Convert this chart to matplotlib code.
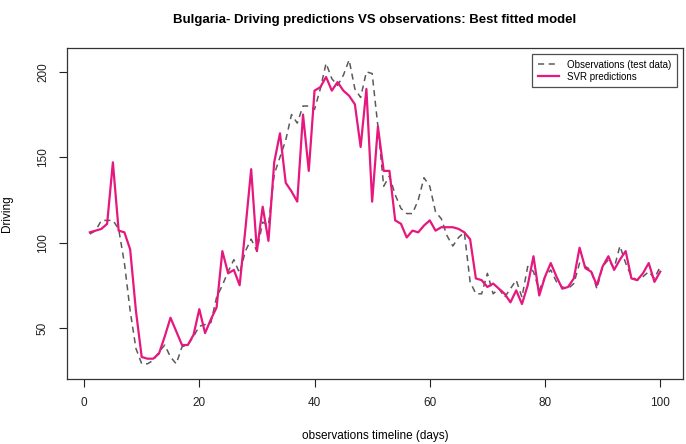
import matplotlib
matplotlib.use("Agg")
import matplotlib.pyplot as plt
import numpy as np

plt.rcParams['font.family'] = ['Liberation Sans', 'DejaVu Sans']

# days 1..100 of the test period
days = np.arange(1, 101)

# observed driving index (test data)
observations = [
    105, 107, 113, 113, 113, 108, 88, 60, 38, 29,
    29, 31, 36, 40, 33, 29, 39, 40, 45, 51,
    52, 53, 68, 75, 83, 90, 82, 95, 102, 95,
    112, 110, 140, 150, 160, 175, 170, 180, 180, 178,
    190, 205, 196, 192, 198, 207, 190, 185, 200, 199,
    168, 133, 139, 128, 120, 117, 117, 125, 138, 133,
    118, 114, 104, 98, 103, 106, 77, 70, 70, 82,
    70, 73, 68, 73, 78, 68, 86, 83, 72, 80,
    84, 77, 74, 73, 76, 88, 86, 84, 73, 86,
    90, 85, 98, 88, 80, 78, 80, 83, 79, 86,
]

# SVR model predictions
svr_pred = [
    106, 107, 108, 111, 147, 107, 106, 96, 60, 33,
    32, 32, 35, 45, 56, 48, 40, 40, 46, 61,
    47, 55, 62, 95, 82, 84, 75, 108, 143, 95,
    121, 101, 147, 164, 135, 130, 124, 175, 142, 189,
    191, 197, 189, 194, 189, 186, 181, 156, 190, 124,
    168, 142, 142, 113, 111, 103, 107, 106, 110, 113,
    107, 109, 109, 109, 108, 106, 102, 79, 78, 74,
    76, 73, 70, 65, 72, 64, 75, 92, 69, 80,
    88, 80, 73, 74, 79, 97, 85, 83, 75, 86,
    92, 84, 90, 95, 79, 78, 82, 88, 77, 83,
]

fig = plt.figure(figsize=(6.86, 4.44), dpi=100)
ax = fig.add_axes([0.0977, 0.146, 0.898, 0.746])

ax.plot(days, observations, color="#5a5a5a", lw=1.1, ls=(0, (4, 3)),
        label="Observations (test data)")
ax.plot(days, svr_pred, color="#E6177F", lw=1.6, label="SVR predictions")

ax.set_xlim(-2.96, 103.96)
ax.set_ylim(20, 214)
ax.set_xticks([0, 20, 40, 60, 80, 100])
ax.set_yticks([50, 100, 150, 200])
ax.tick_params(axis="both", length=6, width=0.8, labelsize=8.5,
               colors="#222222", pad=7)
for lab in ax.get_yticklabels():
    lab.set_rotation(90)
    lab.set_va("center")

for s in ax.spines.values():
    s.set_color("#333333")
    s.set_linewidth(0.9)

ax.set_xlabel("observations timeline (days)", fontsize=8.5, labelpad=15)
ax.set_ylabel("Driving", fontsize=8.5, labelpad=17)
ax.set_title("Bulgaria- Driving predictions VS observations: Best fitted model",
             fontsize=9.5, fontweight="bold", pad=18)

leg = ax.legend(loc="upper right", fontsize=7, frameon=True, fancybox=False,
                borderaxespad=0.6, handlelength=2.2, labelspacing=0.2,
                borderpad=0.6)
leg.get_frame().set_edgecolor("#222222")
leg.get_frame().set_linewidth(0.9)

plt.savefig("out.png", dpi=100)
